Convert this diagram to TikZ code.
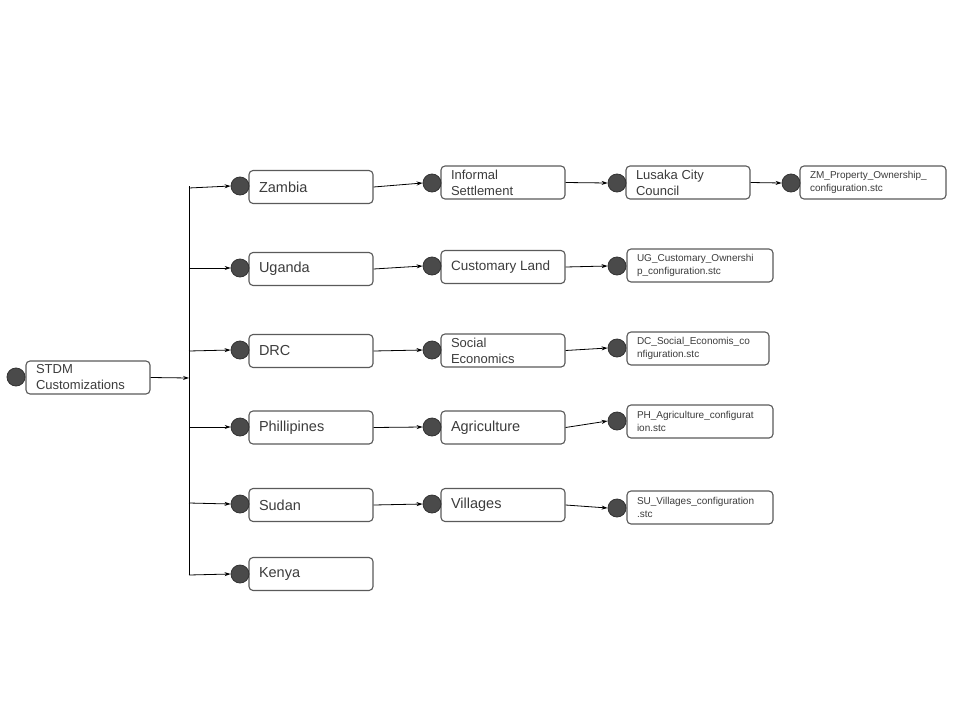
\documentclass[tikz,border=0pt]{standalone}
\usepackage{fontspec}
\setmainfont{Liberation Sans}
\usetikzlibrary{arrows.meta}
\definecolor{dotfill}{HTML}{4A4A4A}
\definecolor{boxline}{HTML}{5A5A5A}
\definecolor{txt}{HTML}{3C3C3C}
\tikzset{
  box/.style={draw=boxline, line width=1.1pt, rounded corners=4pt, fill=white,
    minimum height=33pt, inner xsep=10pt, inner ysep=0pt, align=flush left,
    text=txt, font=\fontsize{14.5}{16}\selectfont},
  bigbox/.style={box, minimum width=124pt, text width=104pt},
  twobox/.style={box, minimum width=124pt, text width=104pt, font=\fontsize{13}{16}\selectfont},
  filebox/.style={box, minimum width=146pt, text width=126pt, font=\fontsize{10}{13}\selectfont},
  dot/.style={circle, draw=black!80, line width=0.8pt, fill=dotfill, minimum size=18pt, inner sep=0pt},
  arr/.style={-{Stealth[length=6pt,width=4pt]}, line width=0.8pt, black},
  trunk/.style={line width=1pt, black}
}
\begin{document}
\begin{tikzpicture}[x=1pt,y=-1pt]
\useasboundingbox (0,0) rectangle (960,720);
% root
\node[twobox] (root) at (88,377.5) {STDM\\Customizations};
\node[dot] (rootd) at (16,377) {};
% trunk
\coordinate (ttop) at (189,186);
\coordinate (tbot) at (189,575);
\coordinate (tin) at (189,378);
\draw[trunk] (ttop) -- (tbot);
\draw[arr] (root.east) -- (tin);
% countries
\node[bigbox] (zam) at (311,187) {Zambia};
\node[dot] (zamd) at (240,186) {};
\node[bigbox] (uga) at (311,269) {Uganda};
\node[dot] (ugad) at (240,268) {};
\node[bigbox] (drc) at (311,351) {DRC};
\node[dot] (drcd) at (240,350) {};
\node[bigbox] (phi) at (311,427.5) {Phillipines};
\node[dot] (phid) at (240,427) {};
\node[bigbox] (sud) at (311,505) {Sudan};
\node[dot] (sudd) at (240,504) {};
\node[bigbox] (ken) at (311,574) {Kenya};
\node[dot] (kend) at (240,574) {};
\coordinate (b1) at (189,188);
\coordinate (b2) at (189,268);
\coordinate (b3) at (189,351);
\coordinate (b4) at (189,427);
\coordinate (b5) at (189,503);
\coordinate (b6) at (189,575);
\draw[arr] (b1) -- (zamd.west);
\draw[arr] (b2) -- (ugad.west);
\draw[arr] (b3) -- (drcd.west);
\draw[arr] (b4) -- (phid.west);
\draw[arr] (b5) -- (sudd.west);
\draw[arr] (b6) -- (kend.west);
% second column
\node[twobox] (inf) at (503,182.5) {Informal\\Settlement};
\node[dot] (infd) at (432,183) {};
\node[bigbox, font=\fontsize{13.5}{16}\selectfont] (cus) at (503,267) {Customary Land};
\node[dot] (cusd) at (432,266) {};
\node[twobox] (soc) at (503,350.5) {Social\\Economics};
\node[dot] (socd) at (432,350) {};
\node[bigbox] (agr) at (503,427.5) {Agriculture};
\node[dot] (agrd) at (432,427) {};
\node[bigbox] (vil) at (503,505) {Villages};
\node[dot] (vild) at (432,504) {};
\draw[arr] (zam.east) -- (infd.west);
\draw[arr] (uga.east) -- (cusd.west);
\draw[arr] (drc.east) -- (socd.west);
\draw[arr] (phi.east) -- (agrd.west);
\draw[arr] (sud.east) -- (vild.west);
% third column
\node[twobox] (lus) at (688,182.5) {Lusaka City\\Council};
\node[dot] (lusd) at (617,183) {};
\node[filebox] (ugf) at (700,265.5) {UG\_Customary\_Ownershi\\p\_configuration.stc};
\node[dot] (ugfd) at (617,266) {};
\node[filebox, minimum width=142pt, text width=122pt] (dcf) at (698,348.5) {DC\_Social\_Economis\_co\\nfiguration.stc};
\node[dot] (dcfd) at (617,348) {};
\node[filebox] (phf) at (700,421.5) {PH\_Agriculture\_configurat\\ion.stc};
\node[dot] (phfd) at (617,421) {};
\node[filebox] (suf) at (700,507.5) {SU\_Villages\_configuration\\.stc};
\node[dot] (sufd) at (617,508) {};
\draw[arr] (inf.east) -- (lusd.west);
\draw[arr] (cus.east) -- (ugfd.west);
\draw[arr] (soc.east) -- (dcfd.west);
\draw[arr] (agr.east) -- (phfd.west);
\draw[arr] (vil.east) -- (sufd.west);
% fourth column
\node[filebox] (zmf) at (873,182.5) {ZM\_Property\_Ownership\_\\configuration.stc};
\node[dot] (zmfd) at (791,183) {};
\draw[arr] (lus.east) -- (zmfd.west);
\end{tikzpicture}
\end{document}
